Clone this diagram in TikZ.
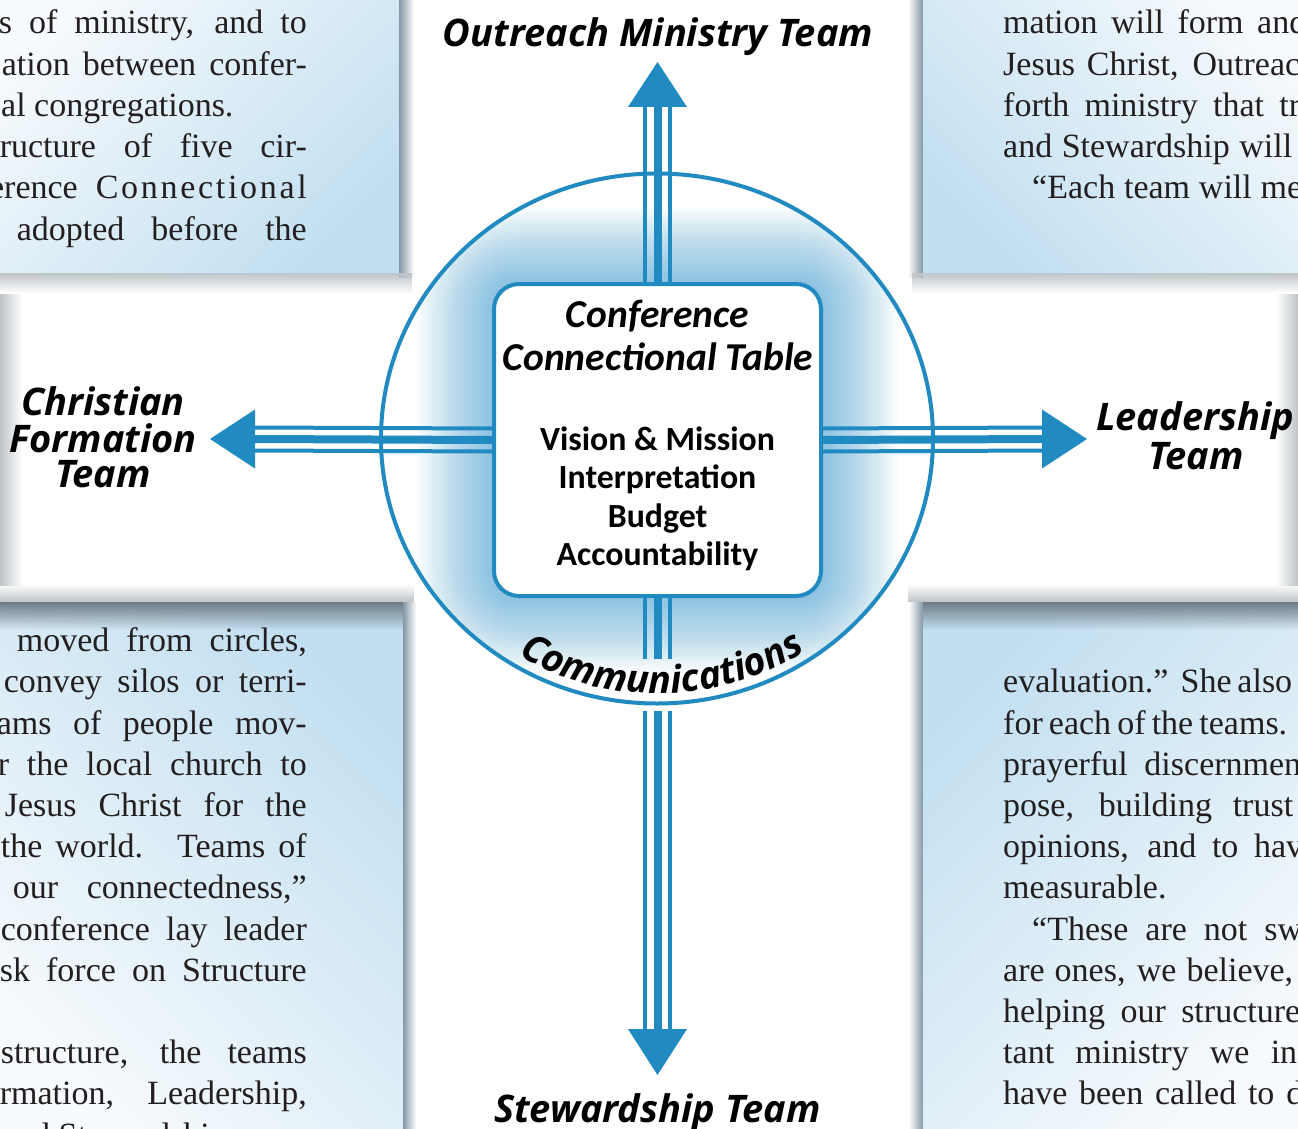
\documentclass[tikz,border=0pt]{standalone}
\usepackage{fontspec}
\setmainfont{Liberation Serif}
\newfontfamily\teamfont{Open Sans}
\newfontfamily\boxfont{Carlito}
\usetikzlibrary{decorations.text,fadings}
\definecolor{cblue}{HTML}{218AC0}
\definecolor{glowblue}{HTML}{2A93CF}
\definecolor{pblue}{HTML}{C2DFF1}
\definecolor{pwhite}{HTML}{F8FBFD}
\definecolor{shgray}{HTML}{8497A4}
\definecolor{bandgray}{HTML}{6E7B85}
\definecolor{softgray}{HTML}{BFC4C8}
\definecolor{ink}{HTML}{231F20}
\tikzfading[name=fadeR, left color=transparent!0, right color=transparent!100]
\tikzfading[name=fadeL, left color=transparent!100, right color=transparent!0]
\tikzfading[name=fadeD, top color=transparent!0, bottom color=transparent!100]
\tikzfading[name=fadeU, top color=transparent!100, bottom color=transparent!0]
\newcommand{\commfont}{\teamfont\bfseries\itshape\fontsize{38}{40}\selectfont}
\newcommand{\jline}[2]{\hbox to #1pt{\spaceskip=0.12em plus 1fil\relax #2}}
\tikzset{
  ptext/.style={inner sep=0pt, text=ink, font=\fontsize{34}{41}\selectfont},
  ptl/.style={ptext, anchor=base east},
  ptr/.style={ptext, anchor=base west},
  team/.style={inner sep=0pt, anchor=base, font=\teamfont\bfseries\itshape\fontsize{38}{40}\selectfont},
  cctitle/.style={inner sep=0pt, anchor=base, font=\boxfont\bfseries\itshape\fontsize{39.5}{43}\selectfont},
  cclist/.style={inner sep=0pt, anchor=base, font=\boxfont\bfseries\fontsize{33.8}{38}\selectfont},
  outerln/.style={draw=cblue, line width=4pt},
  midln/.style={draw=cblue, line width=8pt},
  head/.style={fill=cblue},
  ccbox/.style={draw=cblue, line width=4pt, rounded corners=25pt, fill=white,
    minimum width=327pt, minimum height=312pt, inner sep=0pt},
}
\begin{document}
\begin{tikzpicture}[x=1pt, y=1pt]
\useasboundingbox (0,0) rectangle (1298,-1129);
\clip (0,0) rectangle (1298,-1129);
\fill[white] (0,0) rectangle (1298,-1129);

% ---------- background panels ----------
\shade[top color=pwhite, bottom color=pblue, shading angle=45] (-20,20) rectangle (399,-273);
\shade[top color=pwhite, bottom color=pblue, shading angle=-45] (923,20) rectangle (1320,-273);
\shade[top color=pblue, bottom color=pwhite, shading angle=-45] (-20,-602) rectangle (403,-1150);
\shade[top color=pblue, bottom color=pwhite, shading angle=45] (923,-602) rectangle (1320,-1150);

% shadows
\fill[shgray, path fading=fadeR] (399,0) rectangle (414,-278);
\fill[softgray, path fading=fadeD] (0,-273) rectangle (412,-293);
\fill[shgray, path fading=fadeL] (908,0) rectangle (923,-278);
\fill[softgray, path fading=fadeD] (912,-273) rectangle (1298,-293);
\fill[softgray, path fading=fadeU] (0,-584) rectangle (414,-602);
\fill[bandgray, path fading=fadeD] (0,-602) rectangle (403,-630);
\fill[shgray, path fading=fadeR] (403,-602) rectangle (416,-1129);
\fill[softgray, path fading=fadeU] (908,-584) rectangle (1298,-602);
\fill[bandgray, path fading=fadeD] (923,-602) rectangle (1298,-630);
\fill[shgray, path fading=fadeL] (909,-602) rectangle (923,-1129);
\fill[softgray, path fading=fadeR] (0,-294) rectangle (22,-586);
\fill[softgray, path fading=fadeL] (1276,-294) rectangle (1298,-586);

% ---------- panel text ----------
\node[ptl] (tl1) at (307,-34) {\jline{308}{s of ministry, and to}};
\node[ptl] (tl2) at (307,-75.2) {\jline{305}{ation between confer-}};
\node[ptr] (tl3) at (1,-116.4) {al congregations.};
\node[ptl] (tl4) at (307,-157.6) {\jline{307}{ructure of five cir-}};
\node[ptl] (tl5) at (307,-198.8) {\hbox{erence\hskip 18pt\hbox to 211pt{C\hfil o\hfil n\hfil n\hfil e\hfil c\hfil t\hfil i\hfil o\hfil n\hfil a\hfil l}}};
\node[ptl] (tl6) at (307,-240) {\jline{290}{adopted before the}};

\node[ptr] (tr1) at (1003,-34) {\jline{303}{mation will form and}};
\node[ptr] (tr2) at (1003,-75.2) {\jline{297}{Jesus Christ, Outreac}};
\node[ptr] (tr3) at (1003,-116.4) {\jline{297}{forth ministry that tr}};
\node[ptr] (tr4) at (1003,-157.6) {\jline{289}{and Stewardship will}};
\node[ptr] (tr5) at (1032,-198.8) {\jline{270}{“Each team will me}};

\node[ptl] (bl1) at (307,-651.7) {\jline{290}{moved from circles,}};
\node[ptl] (bl2) at (307,-692.9) {\jline{303}{convey silos or terri-}};
\node[ptl] (bl3) at (307,-734.1) {\jline{310}{ams of people mov-}};
\node[ptl] (bl4) at (307,-775.3) {\jline{309}{r the local church to}};
\node[ptl] (bl5) at (307,-816.5) {\jline{302}{Jesus Christ for the}};
\node[ptl] (bl6) at (307,-857.7) {\jline{306}{the world. Teams of}};
\node[ptl] (bl7) at (307,-898.9) {\jline{294}{our connectedness,”}};
\node[ptl] (bl8) at (307,-940.1) {\jline{306}{conference lay leader}};
\node[ptl] (bl9) at (307,-981.3) {\jline{307}{sk force on Structure}};
\node[ptl] (bl10) at (307,-1063.7) {\jline{306}{structure, the teams}};
\node[ptl] (bl11) at (307,-1104.9) {\jline{307}{rmation, Leadership,}};
\node[ptr] (bl12) at (16,-1146.1) {nd Stewardship};

\node[ptr] (br1) at (1003,-692.9) {\jline{289}{evaluation.” She also}};
\node[ptr] (br2) at (1003,-734.1) {\jline{284}{for each of the teams.}};
\node[ptr] (br3) at (1003,-775.3) {\jline{298}{prayerful discernmen}};
\node[ptr] (br4) at (1003,-816.5) {\jline{290}{pose, building trust}};
\node[ptr] (br5) at (1003,-857.7) {\jline{300}{opinions, and to hav}};
\node[ptr] (br6) at (1003,-898.9) {measurable.};
\node[ptr] (br7) at (1032,-940.1) {\jline{270}{“These are not sw}};
\node[ptr] (br8) at (1003,-981.3) {\jline{290}{are ones, we believe,}};
\node[ptr] (br9) at (1003,-1022.5) {\jline{297}{helping our structure}};
\node[ptr] (br10) at (1003,-1063.7) {\jline{294}{tant ministry we in}};
\node[ptr] (br11) at (1003,-1104.9) {\jline{300}{have been called to d}};

% ---------- circle with glow ----------
\fill[white] (657,-438.5) ellipse [x radius=276, y radius=265];
\begin{scope}
  \clip (657,-438.5) ellipse [x radius=276, y radius=265];
  \foreach \i in {1,...,24} {
    \pgfmathsetmacro\rr{25+3.2*\i}
    \fill[glowblue, fill opacity=0.026, rounded corners=\rr pt]
      ({494-3.2*\i},{-284+3.2*\i}) rectangle ({821+3.2*\i},{-596-3.2*\i});
  }
\end{scope}
\draw[cblue, line width=4pt] (657,-438.5) ellipse [x radius=276, y radius=265];

% ---------- central box ----------
\node[ccbox] (cct) at (657.5,-440) {};

% arrow coordinates
\coordinate (nB) at (657.5,-107);  \coordinate (nT) at (657.5,-62);
\coordinate (sR) at (657.5,-711);  \coordinate (sC) at (657.5,-659);
\coordinate (sB) at (657.5,-1029); \coordinate (sT) at (657.5,-1075);
\coordinate (wB) at (255,-439);    \coordinate (wT) at (210,-439);
\coordinate (eB) at (1042,-439);   \coordinate (eT) at (1087,-439);

% triple connectors
\foreach \o/\s in {-12.5/outerln, 0/midln, 12.5/outerln} {
  \draw[\s] ([xshift=\o pt]cct.north) -- ([xshift=\o pt]nB);
  \draw[\s] ([xshift=\o pt]cct.south) -- ([xshift=\o pt]sC);
  \draw[\s] ([xshift=\o pt]sR) -- ([xshift=\o pt]sB);
}
\foreach \o/\s in {-11.5/outerln, 0/midln, 11.5/outerln} {
  \draw[\s] ([yshift=\o pt]cct.west) -- ([yshift=\o pt]wB);
  \draw[\s] ([yshift=\o pt]cct.east) -- ([yshift=\o pt]eB);
}
% arrowheads
\fill[head] (nT) -- ([xshift=-29.5pt]nB) -- ([xshift=29.5pt]nB) -- cycle;
\fill[head] (sT) -- ([xshift=-29.5pt]sB) -- ([xshift=29.5pt]sB) -- cycle;
\fill[head] (wT) -- ([yshift=29.5pt]wB) -- ([yshift=-29.5pt]wB) -- cycle;
\fill[head] (eT) -- ([yshift=29.5pt]eB) -- ([yshift=-29.5pt]eB) -- cycle;

% box text
\node[cctitle] (t1) at (657.5,-327) {Conference};
\node[cctitle] (t2) at (658,-370) {Connectional Table};
\node[cclist] (l1) at (657.5,-450) {Vision \& Mission};
\node[cclist] (l2) at (657.5,-488.5) {Interpretation};
\node[cclist] (l3) at (657.5,-527) {Budget};
\node[cclist] (l4) at (657.5,-565.5) {Accountability};

% Communications along the arc
\path[decorate, decoration={text along path, text align=center,
   text={|\commfont|Communications}}]
  (658,-438.5) ++(210:266 and 255) arc[start angle=210, end angle=332, x radius=266, y radius=255];

% team labels
\node[team] (outreach) at (658,-47) {Outreach Ministry Team};
\node[team] (steward) at (657.5,-1122) {Stewardship Team};
\node[team] (cf1) at (103,-415) {Christian};
\node[team] (cf2) at (103,-452) {Formation};
\node[team] (cf3) at (103,-487) {Team};
\node[team] (ld1) at (1195,-430) {Leadership};
\node[team] (ld2) at (1196,-469) {Team};
\end{tikzpicture}
\end{document}
